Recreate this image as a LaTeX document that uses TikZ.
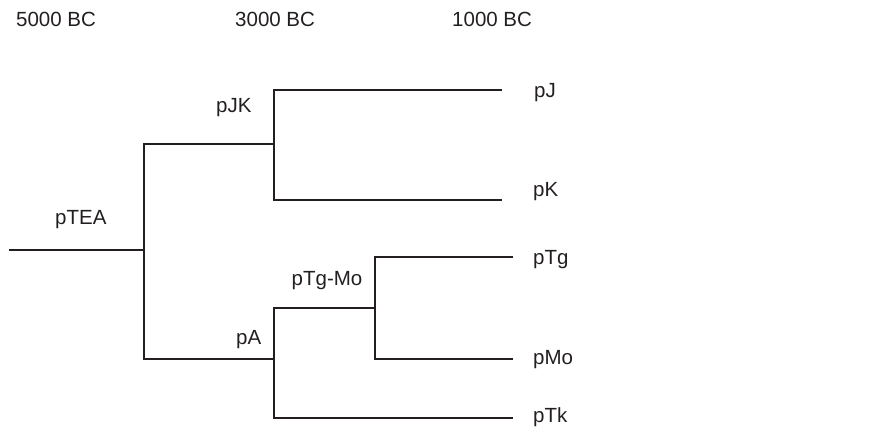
\documentclass[tikz,border=0pt]{standalone}
\usepackage{fontspec}
\setmainfont{Liberation Sans}
\begin{document}
\begin{tikzpicture}[x=1pt,y=-1pt,
  branch/.style={line width=1.4pt,draw={rgb,255:red,35;green,31;blue,32}},
  lbl/.style={anchor=base west,inner sep=0pt,text={rgb,255:red,35;green,31;blue,32},font=\fontsize{20.5}{24}\selectfont},
  era/.style={lbl}]
\useasboundingbox (0,0) rectangle (882,429);
% time axis labels
\node[era] (t5) at (16,26.5) {5000 BC};
\node[era] (t3) at (235,26.5) {3000 BC};
\node[era] (t1) at (452,26.5) {1000 BC};
% junctions and branch ends
\coordinate (root) at (9,250);
\coordinate (nTEA) at (144,250);
\coordinate (nJK) at (274,144);
\coordinate (nA) at (274,359);
\coordinate (nTM) at (375,308);
\coordinate (eJ) at (502,90);
\coordinate (eK) at (502,200);
\coordinate (eTg) at (513,257);
\coordinate (eMo) at (513,359);
\coordinate (eTk) at (513,418);
% tree
\draw[branch] (root) -- (nTEA);
\draw[branch] (nJK) -| (nTEA) |- (nA);
\draw[branch] (eJ) -| (nJK) |- (eK);
\draw[branch] (nTM) -| (nA) |- (eTk);
\draw[branch] (eTg) -| (nTM) |- (eMo);
% internal labels
\node[lbl] (lTEA) at (55,224.5) {pTEA};
\node[lbl] (lJK) at (216,112.5) {pJK};
\node[lbl] (lTM) at (291.5,285.5) {pTg-Mo};
\node[lbl] (lA) at (236,344) {pA};
% leaf labels
\node[lbl] (lJ) at (534,97.5) {pJ};
\node[lbl] (lK) at (533,196) {pK};
\node[lbl] (lTg) at (533,264) {pTg};
\node[lbl] (lMo) at (533,364) {pMo};
\node[lbl] (lTk) at (533,422.5) {pTk};
\end{tikzpicture}
\end{document}
